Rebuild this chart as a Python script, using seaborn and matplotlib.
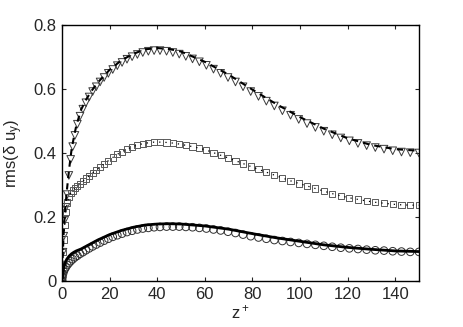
import numpy as np
import pandas as pd
import matplotlib
matplotlib.use("Agg")
import matplotlib.pyplot as plt
import seaborn as sns

# marker positions z+ (wall-normal grid points)
z_pts = [0, 0.045, 0.18, 0.41, 0.72, 1.13, 1.62, 2.21, 2.88, 3.64, 4.5, 5.43, 6.46,
         7.57, 8.77, 10.05, 11.42, 12.87, 14.4, 16.01, 17.7, 19.47, 21.32, 23.25,
         25.24, 27.31, 29.46, 31.67, 33.95, 36.29, 38.7, 41.17, 43.93, 46.57, 49.26,
         52.02, 54.84, 57.72, 60.66, 63.65, 66.66, 69.75, 72.89, 76.07, 79.29, 82.56,
         85.86, 89.22, 92.6, 96.02, 99.47, 102.95, 106.46, 110.0, 113.55, 117.14,
         120.74, 124.35, 128.0, 131.64, 135.3, 138.96, 142.64, 146.33, 150.0]

tri_vals = [0, 0.02, 0.05, 0.09, 0.14, 0.19, 0.23, 0.27, 0.33, 0.38, 0.42, 0.455, 0.49,
            0.515, 0.537, 0.557, 0.575, 0.592, 0.607, 0.622, 0.636, 0.649, 0.661, 0.673,
            0.683, 0.693, 0.701, 0.708, 0.714, 0.718, 0.72, 0.72, 0.718, 0.714, 0.709,
            0.702, 0.694, 0.685, 0.674, 0.662, 0.649, 0.636, 0.622, 0.607, 0.592, 0.577,
            0.562, 0.547, 0.532, 0.518, 0.505, 0.492, 0.48, 0.468, 0.457, 0.447,
            0.438, 0.43, 0.423, 0.417, 0.412, 0.407, 0.403, 0.401, 0.4]

sq_vals = [0, 0.02, 0.05, 0.09, 0.13, 0.175, 0.215, 0.245, 0.262, 0.274, 0.283, 0.29, 0.297,
           0.304, 0.312, 0.32, 0.329, 0.338, 0.347, 0.356, 0.366, 0.376, 0.386, 0.396,
           0.404, 0.412, 0.419, 0.425, 0.429, 0.432, 0.434, 0.434, 0.433, 0.431, 0.428,
           0.424, 0.42, 0.415, 0.409, 0.401, 0.393, 0.385, 0.376, 0.367, 0.358, 0.349,
           0.34, 0.331, 0.322, 0.313, 0.305, 0.297, 0.289, 0.281, 0.273, 0.266,
           0.26, 0.255, 0.25, 0.246, 0.243, 0.24, 0.238, 0.237, 0.237]

circ_vals = [0, 0.003, 0.012, 0.022, 0.03, 0.037, 0.043, 0.05, 0.056, 0.062, 0.068, 0.074, 0.079,
             0.085, 0.09, 0.096, 0.102, 0.108, 0.114, 0.12, 0.126, 0.132, 0.138, 0.143,
             0.148, 0.153, 0.157, 0.161, 0.164, 0.166, 0.168, 0.169, 0.17, 0.17, 0.17,
             0.169, 0.168, 0.166, 0.164, 0.161, 0.158, 0.154, 0.15, 0.145, 0.14, 0.136,
             0.132, 0.128, 0.125, 0.122, 0.119, 0.116, 0.113, 0.11, 0.107, 0.104,
             0.102, 0.1, 0.098, 0.096, 0.095, 0.093, 0.092, 0.091, 0.091]

# reference curves (lines)
z_line = [0, 0.3, 0.7, 1.2, 2, 3, 4, 5, 6, 8, 10, 12, 15, 20, 25, 30, 35, 40, 45, 50,
          60, 70, 80, 90, 100, 110, 120, 130, 140, 150]
top_line = [0, 0.08, 0.15, 0.21, 0.28, 0.35, 0.41, 0.45, 0.485, 0.535, 0.565, 0.59, 0.62,
            0.66, 0.69, 0.71, 0.724, 0.728, 0.725, 0.717, 0.685, 0.645, 0.598, 0.553,
            0.512, 0.476, 0.446, 0.425, 0.412, 0.407]
bot_line = [0, 0.02, 0.04, 0.055, 0.068, 0.078, 0.085, 0.09, 0.094, 0.1, 0.108, 0.116, 0.128,
            0.145, 0.158, 0.168, 0.175, 0.178, 0.179, 0.178, 0.172, 0.162, 0.148, 0.135,
            0.124, 0.113, 0.105, 0.099, 0.094, 0.092]

xticks = [0, 20, 40, 60, 80, 100, 120, 140]
yticks = [0, 0.2, 0.4, 0.6, 0.8]
ytick_labels = ["0", "0.2", "0.4", "0.6", "0.8"]

sns.set_style("ticks")
plt.rcParams["font.family"] = ["Liberation Sans", "DejaVu Sans"]
plt.rcParams["mathtext.fontset"] = "custom"
plt.rcParams["mathtext.rm"] = "Liberation Sans"
plt.rcParams["mathtext.it"] = "Liberation Sans"

fig = plt.figure(figsize=(4.63, 3.27), dpi=100)
ax = fig.add_axes([62 / 463, 1 - 281 / 327, (419 - 62) / 463, (281 - 25) / 327])

# lines
sns.lineplot(x=z_line, y=top_line, ax=ax, color="black", lw=1.5,
             linestyle=(0, (3, 2.5)), sort=False)
sns.lineplot(x=z_pts, y=sq_vals, ax=ax, color="black", lw=0.9,
             linestyle=(0, (1, 4)), sort=False)
sns.lineplot(x=z_line, y=bot_line, ax=ax, color="black", lw=2.0, sort=False)

# markers
sns.scatterplot(x=z_pts, y=tri_vals, ax=ax, marker="v", s=30,
                facecolors="none", edgecolor="#3a3a3a", linewidth=0.7)
sns.scatterplot(x=z_pts, y=sq_vals, ax=ax, marker="s", s=20,
                facecolors="none", edgecolor="#5a5a5a", linewidth=0.7)
sns.scatterplot(x=z_pts, y=circ_vals, ax=ax, marker="o", s=30,
                facecolors="none", edgecolor="#303030", linewidth=0.7)

ax.set_xlim(0, 150)
ax.set_ylim(0, 0.8)
ax.set_xticks(xticks)
ax.set_yticks(yticks)
ax.set_yticklabels(ytick_labels)
ax.tick_params(direction="in", top=True, right=True, length=3, width=0.8,
               labelsize=12, pad=4)
for sp in ax.spines.values():
    sp.set_visible(True)
    sp.set_linewidth(1.0)
    sp.set_color("black")
ax.set_xlabel("z$^+$", fontsize=12, labelpad=1)
ax.set_ylabel("rms(δ u$_y$)", fontsize=12, labelpad=6)

fig.savefig("out.png", dpi=100)
